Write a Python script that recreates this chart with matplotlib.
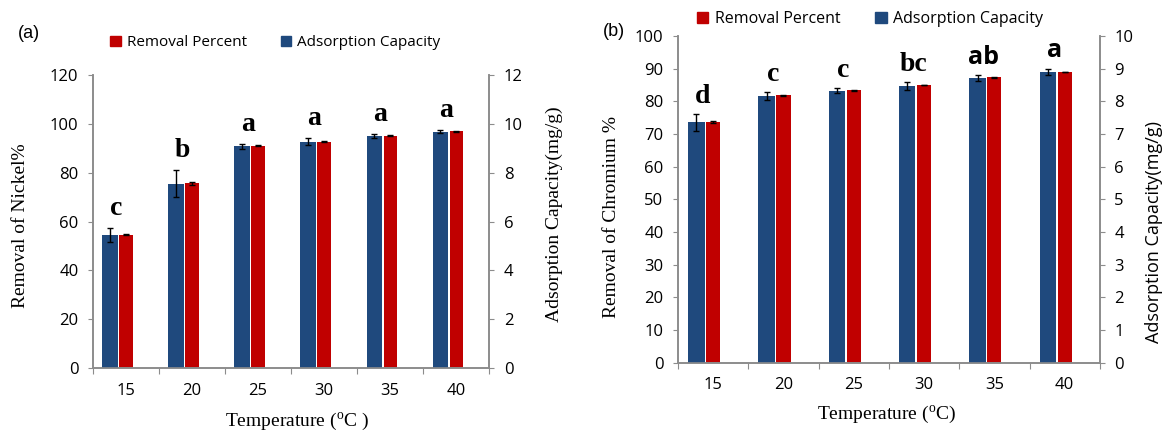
import numpy as np
import matplotlib.pyplot as plt
from matplotlib.patches import Patch

plt.rcParams['font.family'] = ['Open Sans', 'DejaVu Sans']

# Данные
temps = ['15', '20', '25', '30', '35', '40']

# (a) никель
removal_a = [54.7, 75.7, 91.0, 92.8, 95.2, 97.0]
removal_err_a = [0.3, 0.6, 0.2, 0.2, 0.2, 0.2]
capacity_a = [5.45, 7.56, 9.09, 9.27, 9.51, 9.69]
capacity_err_a = [0.27, 0.55, 0.10, 0.15, 0.08, 0.05]
letters_a = ['c', 'b', 'a', 'a', 'a', 'a']

# (b) хром
removal_b = [73.8, 81.8, 83.3, 85.0, 87.3, 89.0]
removal_err_b = [0.3, 0.2, 0.1, 0.1, 0.1, 0.1]
capacity_b = [7.36, 8.16, 8.32, 8.47, 8.72, 8.90]
capacity_err_b = [0.26, 0.13, 0.08, 0.12, 0.09, 0.10]
letters_b = ['d', 'c', 'c', 'bc', 'ab', 'a']
letter_fonts_b = ['Liberation Serif'] * 4 + ['Open Sans'] * 2

BLUE = '#1F497D'
RED = '#C00000'
GRAY = '#8C8C8C'
SERIF = 'Liberation Serif'


def draw_panel(ax, removal, removal_err, capacity, capacity_err, letters, letter_fonts,
               ymax, ystep, letter_offset, tick_pad):
    x = np.arange(len(temps))
    axr = ax.twinx()

    ax.bar(x, removal, width=0.2, color=RED, zorder=2)
    ax.errorbar(x, removal, yerr=removal_err, fmt='none', ecolor='black',
                elinewidth=1, capsize=2.5, capthick=1, zorder=3)
    axr.bar(x - 0.24, capacity, width=0.235, color=BLUE, zorder=2)
    axr.errorbar(x - 0.24, capacity, yerr=capacity_err, fmt='none', ecolor='black',
                 elinewidth=1, capsize=2.5, capthick=1, zorder=3)

    for xi, c, e, lab, fnt in zip(x, capacity, capacity_err, letters, letter_fonts):
        size = 20 if fnt == SERIF else 18
        axr.annotate(lab, (xi - 0.15, c + e), xytext=(0, letter_offset),
                     textcoords='offset points', ha='center', va='baseline',
                     fontsize=size, fontweight='bold', family=fnt)

    ax.set_xlim(-0.5, len(temps) - 0.5)
    ax.set_ylim(0, ymax)
    axr.set_ylim(0, ymax / 10)
    ax.set_yticks(np.arange(0, ymax + 1, ystep))
    axr.set_yticks(np.arange(0, ymax / 10 + 0.01, ystep / 10))
    axr.set_yticklabels([f'{v:g}' for v in np.arange(0, ymax / 10 + 0.01, ystep / 10)])

    # деления между категориями, подписи по центру
    ax.set_xticks(np.arange(-0.5, len(temps), 1.0))
    ax.set_xticklabels([])
    ax.set_xticks(x, temps, minor=True)
    ax.tick_params(axis='x', which='major', direction='out', length=4, color=GRAY)
    ax.tick_params(axis='x', which='minor', length=0, pad=tick_pad, labelsize=12)
    ax.tick_params(axis='y', direction='out', length=3.5, color=GRAY, pad=7, labelsize=12)
    axr.tick_params(axis='y', direction='out', length=3.5, color=GRAY, pad=7, labelsize=12)

    for a in (ax, axr):
        a.spines['top'].set_visible(False)
        for s in ('left', 'right', 'bottom'):
            a.spines[s].set_color(GRAY)
            a.spines[s].set_linewidth(1.2)
    return axr


fig = plt.figure(figsize=(11.62, 4.32), dpi=100)

# Панель (a)
ax1 = fig.add_axes([0.080, 0.148, 0.341, 0.678])
ax1r = draw_panel(ax1, removal_a, removal_err_a, capacity_a, capacity_err_a,
                  letters_a, [SERIF] * 6, 120, 20, 9.5, 10.5)
ax1.set_ylabel('Removal of Nickel%', family=SERIF, fontsize=14)
ax1.yaxis.set_label_coords(-0.184, 0.485)
ax1r.set_ylabel('Adsorption Capacity(mg/g)', family=SERIF, fontsize=14, rotation=90)
ax1r.yaxis.set_label_coords(1.164, 0.526)
ax1.set_xlabel(r'Temperature ($\mathregular{^{o}}$C )', family=SERIF, fontsize=14)
ax1.xaxis.set_label_coords(0.515, -0.183)
for lab in (ax1.yaxis.label, ax1r.yaxis.label, ax1.xaxis.label):
    lab.set_va('center')

# Панель (b)
ax2 = fig.add_axes([0.5835, 0.160, 0.363, 0.757])
ax2r = draw_panel(ax2, removal_b, removal_err_b, capacity_b, capacity_err_b,
                  letters_b, letter_fonts_b, 100, 10, 8, 10)
ax2.set_ylabel('Removal of Chromium %', family=SERIF, fontsize=14)
ax2.yaxis.set_label_coords(-0.157, 0.446)
ax2r.set_ylabel('Adsorption Capacity(mg/g)', fontsize=13, rotation=90)
ax2r.yaxis.set_label_coords(1.128, 0.40)
ax2.set_xlabel(r'Temperature ($\mathregular{^{o}}$C)', family=SERIF, fontsize=14)
ax2.xaxis.set_label_coords(0.495, -0.159)
for lab in (ax2.yaxis.label, ax2r.yaxis.label, ax2.xaxis.label):
    lab.set_va('center')

# Легенды
handles = [Patch(color=RED, label='Removal Percent'),
           Patch(color=BLUE, label='Adsorption Capacity')]
for xl, yl, fs in [(110, 42.7, 11), (697, 19, 11.5)]:
    fig.legend(handles=handles, loc='center left',
               bbox_to_anchor=(xl / 1162, 1 - yl / 432), ncol=2, frameon=False,
               fontsize=fs, handlelength=0.7, handleheight=0.7, handletextpad=0.4,
               columnspacing=2.2, borderpad=0, borderaxespad=0)

fig.text(18 / 1162, 1 - 33 / 432, '(a)', family='Liberation Sans', fontsize=13, va='center')
fig.text(603 / 1162, 1 - 32 / 432, '(b)', family='Liberation Sans', fontsize=13, va='center')

plt.savefig('out.png', dpi=100)
plt.close()
